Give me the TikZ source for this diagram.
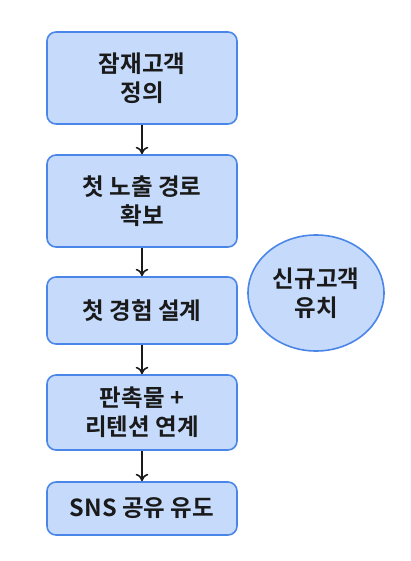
\documentclass[tikz,border=0pt]{standalone}
\usepackage{fontspec}
\usepackage{xcolor}
\usepackage{tikz}
\usetikzlibrary{arrows.meta,shapes.geometric}
\newfontfamily\krfont{Noto Sans CJK KR Bold}
\definecolor{edge}{HTML}{4A86E8}
\definecolor{soft}{HTML}{C6DBFC}
\definecolor{ink}{HTML}{1A1A1A}

\begin{document}
\begin{tikzpicture}[x=1pt,y=-1pt,
 b/.style={draw=edge,fill=soft,line width=1.6pt,rounded corners=9pt,align=center,minimum width=190pt,inner sep=0pt,text=ink,font=\krfont\fontsize{23.5}{29}\selectfont},
 e/.style={ellipse,draw=edge,fill=soft,line width=1.6pt,align=center,minimum width=136pt,minimum height=116pt,inner sep=0pt,text=ink,font=\krfont\fontsize{23.5}{29}\selectfont},
 a/.style={-{To[length=2.6mm,width=4.4mm]},draw=ink,line width=1.6pt}
]
\fill[white] (0,0) rectangle (411,561);
\node[b,minimum height=92pt] (def) at (142,78) {잠재고객\\정의};
\node[b,minimum height=92pt] (route) at (142,201) {첫 노출 경로\\확보};
\node[b,minimum height=67pt] (exp) at (142,310.5) {첫 경험 설계};
\node[b,minimum height=75pt] (ret) at (142,412.5) {판촉물 +\\리텐션 연계};
\node[b,minimum height=53pt] (sns) at (142,508.5) {SNS 공유 유도};
\node[e] (goal) at (316,293) {신규고객\\유치};
\draw[a] (def)--(route); \draw[a] (route)--(exp);
\draw[a] (exp)--(ret); \draw[a] (ret)--(sns);
\end{tikzpicture}
\end{document}
